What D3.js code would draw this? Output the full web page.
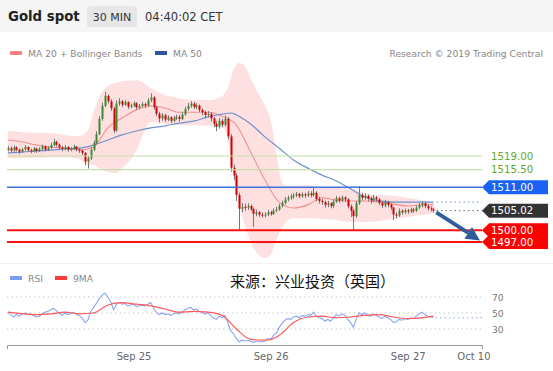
<!DOCTYPE html>
<html>
<head>
<meta charset="utf-8">
<script src="https://cdn.jsdelivr.net/npm/d3@7"></script>
<style>
  body { margin: 0; background: #fff; }
  svg { display: block; font-family: "DejaVu Sans", Verdana, sans-serif; }
</style>
</head>
<body>
<svg id="chart" width="553" height="371"></svg>
<script>
// 30 min candles, Sep 24 ~02:00 -> Sep 27 04:30 (open = previous close)
var firstOpen = 1520.6;
var closes = [
  1521.0, 1520.4, 1521.2, 1520.6, 1520.1, 1520.7, 1521.3, 1520.5, 1520.2, 1520.9,
  1520.3, 1520.8, 1521.5, 1520.6, 1521.1, 1521.8, 1522.6, 1521.9, 1521.2, 1520.8,
  1521.3, 1520.6, 1520.9, 1521.4, 1520.7, 1520.4, 1519.8, 1517.6, 1518.4, 1520.6,
  1522.4, 1524.6, 1528.5, 1531.8, 1534.4, 1533.0, 1531.2, 1525.5, 1532.4, 1533.0,
  1532.1, 1532.8, 1531.6, 1531.9, 1532.5, 1531.4, 1531.8, 1532.3, 1531.9, 1533.2,
  1534.0, 1531.5, 1529.8, 1528.6, 1529.4, 1528.3, 1528.9, 1528.0, 1528.7, 1529.0,
  1528.5, 1529.6, 1531.0, 1531.8, 1532.4, 1531.5, 1531.9, 1530.8, 1530.2, 1529.5,
  1529.8, 1528.6, 1527.2, 1526.5, 1528.0, 1527.0, 1528.5, 1524.0, 1516.0, 1514.0,
  1509.0, 1505.5, 1506.0, 1505.8, 1506.2, 1505.4, 1504.2, 1504.6, 1504.0, 1503.8,
  1504.0, 1504.6, 1504.2, 1505.0, 1505.3, 1506.2, 1507.0, 1507.9, 1508.3, 1508.6,
  1508.9, 1509.3, 1508.7, 1509.2, 1508.9, 1509.4, 1509.0, 1509.6, 1508.0, 1507.5,
  1507.2, 1506.5, 1506.9, 1506.2, 1507.3, 1508.2, 1507.6, 1508.4, 1507.9, 1506.1,
  1505.0, 1503.6, 1506.9, 1509.0, 1508.3, 1508.8, 1508.1, 1507.6, 1508.4, 1507.9,
  1507.0, 1506.3, 1507.2, 1506.5, 1505.8, 1504.0, 1503.8, 1505.0, 1504.6, 1505.1,
  1504.8, 1505.3, 1505.0, 1505.8, 1506.4, 1506.9, 1506.2, 1505.6, 1505.4, 1505.02
];
var highs = [
  1521.5, 1521.4, 1521.7, 1521.5, 1520.9, 1521.1, 1521.8, 1521.5, 1520.9, 1521.3,
  1521.1, 1521.2, 1521.9, 1521.7, 1521.5, 1522.4, 1523.4, 1522.9, 1522.2, 1521.6,
  1521.8, 1521.6, 1521.3, 1521.9, 1521.6, 1521.0, 1520.6, 1520.0, 1519.0, 1521.2,
  1523.0, 1525.3, 1529.2, 1532.6, 1535.4, 1534.8, 1533.5, 1531.6, 1533.2, 1533.8,
  1533.4, 1533.3, 1533.0, 1532.4, 1533.0, 1532.8, 1532.3, 1532.8, 1532.7, 1533.8,
  1535.0, 1534.4, 1531.9, 1530.3, 1530.0, 1529.8, 1529.4, 1529.2, 1529.3, 1529.6,
  1529.5, 1530.2, 1531.6, 1532.6, 1533.0, 1532.8, 1532.5, 1532.2, 1531.2, 1530.6,
  1530.5, 1530.2, 1529.0, 1527.9, 1528.7, 1528.5, 1529.4, 1529.0, 1524.6, 1516.8,
  1514.6, 1509.6, 1507.0, 1506.8, 1506.9, 1506.6, 1505.8, 1505.3, 1505.0, 1504.6,
  1504.6, 1505.2, 1505.0, 1505.6, 1506.0, 1506.8, 1507.6, 1508.5, 1508.9, 1509.2,
  1509.5, 1509.8, 1509.6, 1509.7, 1509.6, 1510.0, 1510.0, 1511.0, 1510.0, 1508.6,
  1508.0, 1507.6, 1507.5, 1507.2, 1507.9, 1508.8, 1508.6, 1508.9, 1508.7, 1508.2,
  1506.6, 1505.4, 1507.5, 1511.3, 1509.6, 1509.4, 1509.2, 1508.6, 1509.0, 1508.8,
  1508.2, 1507.4, 1507.8, 1507.6, 1506.9, 1506.0, 1504.6, 1505.6, 1505.4, 1505.6,
  1505.5, 1505.8, 1505.7, 1506.3, 1507.0, 1507.4, 1507.3, 1506.6, 1506.1, 1505.8
];
var lows = [
  1520.2, 1519.9, 1520.1, 1520.2, 1519.5, 1519.8, 1520.4, 1520.0, 1519.7, 1519.9,
  1519.8, 1520.0, 1520.5, 1520.2, 1520.3, 1520.8, 1521.5, 1521.4, 1520.7, 1520.2,
  1520.5, 1520.1, 1520.2, 1520.6, 1520.2, 1519.8, 1519.2, 1516.6, 1515.8, 1518.0,
  1520.2, 1522.0, 1524.3, 1528.0, 1531.5, 1532.4, 1530.5, 1524.8, 1525.2, 1531.8,
  1531.5, 1531.8, 1531.0, 1531.2, 1531.5, 1530.9, 1531.0, 1531.4, 1531.3, 1531.6,
  1532.8, 1530.9, 1529.2, 1527.6, 1528.0, 1527.7, 1527.9, 1527.4, 1527.6, 1528.2,
  1527.8, 1528.2, 1529.3, 1530.6, 1531.3, 1531.0, 1531.0, 1530.2, 1529.4, 1528.6,
  1528.9, 1527.8, 1526.4, 1525.3, 1526.0, 1526.3, 1526.6, 1523.2, 1515.0, 1512.8,
  1507.5, 1500.1, 1504.6, 1505.0, 1505.2, 1504.9, 1500.8, 1503.6, 1503.4, 1503.2,
  1503.3, 1503.6, 1503.7, 1503.9, 1504.6, 1505.0, 1505.8, 1506.6, 1507.4, 1507.8,
  1508.1, 1508.5, 1508.2, 1508.3, 1508.3, 1508.5, 1508.4, 1508.6, 1507.4, 1506.8,
  1506.5, 1505.8, 1505.9, 1505.6, 1505.8, 1507.0, 1507.0, 1507.2, 1507.2, 1505.6,
  1503.4, 1500.2, 1503.2, 1506.5, 1507.6, 1507.8, 1507.4, 1506.8, 1507.2, 1507.3,
  1506.4, 1505.7, 1505.9, 1505.9, 1505.2, 1502.6, 1503.0, 1503.4, 1504.0, 1504.2,
  1504.2, 1504.4, 1504.4, 1504.7, 1505.4, 1505.9, 1505.6, 1505.0, 1504.8, 1504.5
];

// Bollinger bands (read at these bar indices)
var bbIdx = [0, 5, 10, 15, 20, 25, 28, 30, 33, 35, 38, 40, 45, 48, 50, 55, 60, 65, 70, 75, 77, 79, 81, 83, 85, 87, 90, 92, 94, 96, 98, 100, 105, 110, 115, 120, 125, 130, 135, 140, 145, 149];
var bbUpper = [1525.4, 1525.1, 1524.9, 1524.9, 1524.4, 1524.1, 1525.6, 1530.2, 1535.4, 1536.9, 1537.8, 1538.2, 1538.4, 1537.4, 1536.4, 1534.6, 1533.8, 1533.3, 1533.3, 1534.3, 1536.4, 1541.0, 1542.8, 1542.0, 1538.9, 1535.9, 1532.0, 1528.2, 1519.8, 1512.3, 1511.3, 1511.3, 1511.6, 1510.8, 1510.8, 1510.6, 1509.5, 1509.0, 1508.8, 1508.3, 1507.7, 1507.2];
var bbLower = [1518.5, 1518.5, 1518.5, 1518.7, 1518.7, 1518.2, 1516.7, 1516.7, 1515.4, 1514.9, 1514.6, 1515.9, 1520.5, 1525.6, 1527.7, 1527.2, 1526.9, 1526.9, 1526.7, 1526.4, 1523.1, 1514.1, 1506.5, 1501.3, 1497.0, 1494.4, 1492.9, 1493.7, 1497.5, 1500.6, 1502.6, 1503.1, 1503.1, 1502.9, 1502.6, 1502.1, 1502.1, 1502.4, 1502.9, 1503.4, 1503.9, 1504.2];

var ma20Idx = [0, 5, 10, 15, 20, 25, 30, 35, 40, 45, 50, 55, 60, 65, 70, 75, 80, 85, 90, 95, 100, 105, 110, 115, 120, 125, 130, 135, 140, 145, 149];
var ma20 = [1523.1, 1522.6, 1521.8, 1521.3, 1521.0, 1520.5, 1521.3, 1526.2, 1528.7, 1530.8, 1531.8, 1531.3, 1530.2, 1530.2, 1530.2, 1529.2, 1526.9, 1520.0, 1512.9, 1507.2, 1505.7, 1506.5, 1508.3, 1507.7, 1507.5, 1507.5, 1507.2, 1506.7, 1506.2, 1506.5, 1506.5];

var ma50Idx = [0, 5, 10, 15, 20, 25, 30, 35, 40, 45, 50, 55, 60, 65, 70, 75, 78, 80, 85, 90, 95, 100, 105, 110, 115, 120, 125, 130, 135, 140, 145, 149];
var ma50 = [1519.8, 1520.0, 1520.3, 1520.5, 1520.8, 1521.0, 1521.8, 1523.1, 1524.4, 1525.4, 1526.2, 1526.7, 1527.4, 1527.9, 1529.0, 1529.7, 1530.0, 1529.5, 1527.2, 1523.9, 1521.0, 1518.0, 1515.9, 1514.1, 1512.6, 1510.6, 1508.5, 1507.5, 1507.2, 1507.2, 1507.2, 1507.2];

var rsi = [
  51, 48, 45, 48, 46, 49, 50, 48, 49, 47,
  45, 46, 49, 51, 52, 54, 56, 53, 50, 47,
  50, 48, 49, 51, 48, 47, 44, 38, 41, 52,
  57, 62, 68, 72, 75, 70, 64, 54, 61, 63,
  61, 62, 59, 60, 61, 58, 59, 60, 59, 61,
  63, 56, 51, 48, 50, 48, 49, 47, 49, 50,
  49, 51, 54, 56, 57, 54, 55, 52, 51, 49,
  50, 47, 44, 42, 46, 44, 47, 38, 28, 24,
  18, 14, 16, 15, 16, 15, 13, 15, 14, 14,
  15, 18, 17, 22, 25, 32, 37, 41, 43, 42,
  45, 46, 44, 47, 46, 48, 47, 51, 46, 44,
  43, 40, 42, 40, 44, 48, 46, 49, 47, 42,
  38, 32, 43, 50, 48, 50, 47, 46, 49, 47,
  45, 43, 46, 44, 42, 38, 39, 42, 41, 43,
  42, 44, 43, 46, 49, 51, 48, 46, 45, 44
];
var rsiMaIdx = [0, 5, 10, 15, 20, 25, 30, 35, 40, 45, 50, 55, 60, 65, 70, 75, 80, 85, 90, 95, 100, 105, 110, 115, 120, 125, 130, 135, 140, 145, 149];
var rsiMa = [51, 49, 48, 49, 51, 49, 50, 60, 63, 61, 59, 55, 51, 52, 51, 47, 30, 17, 16, 22, 38, 45, 46, 44, 45, 47, 48, 45, 43, 44, 46];

var lastPrice = 1505.02;
var supportLevels = [1500.00, 1497.00];
var resistLevels = [1519.00, 1515.50];
var pivotLevel = 1511.00;
var arrowFrom = [150, 1504.6];
var arrowTo = [165.3, 1497.4];

var dayTicks = [44, 92, 140, 163];
var dayLabels = ["Sep 25", "Sep 26", "Sep 27", "Oct 10"];
var rsiTicks = [70, 50, 30];

var svg = d3.select("#chart");
var W = 553;
var plotLeft = 7, plotRight = 482;

var x = d3.scaleLinear().domain([-0.3, 166]).range([plotLeft, plotRight]);
var y = d3.scaleLinear().domain([1497, 1519]).range([242, 156]);
var yR = d3.scaleLinear().domain([30, 70]).range([329, 297]);

drawHeader();
drawPricePanel();
drawRsiPanel();

function drawHeader() {
  svg.append("rect").attr("x", 0).attr("y", 0).attr("width", W).attr("height", 32).attr("fill", "#f5f5f5");
  svg.append("text").attr("x", 8).attr("y", 21).attr("font-size", 13.3).attr("font-weight", "bold")
    .attr("fill", "#222").text("Gold spot");
  svg.append("rect").attr("x", 87).attr("y", 6).attr("width", 50).attr("height", 21).attr("rx", 2).attr("fill", "#e6e6e6");
  svg.append("text").attr("x", 112).attr("y", 21).attr("text-anchor", "middle").attr("font-size", 11)
    .attr("fill", "#333").text("30 MIN");
  svg.append("text").attr("x", 145).attr("y", 21).attr("font-size", 11.5).attr("fill", "#333").text("04:40:02 CET");

  // legend
  var leg = [
    { x: 10, color: "#ff8080", label: "MA 20 + Bollinger Bands" },
    { x: 155, color: "#2d55a0", label: "MA 50" }
  ];
  var g = svg.append("g").attr("font-size", 9.2).attr("fill", "#888");
  g.selectAll("rect").data(leg).enter().append("rect")
    .attr("x", d => d.x).attr("y", 51).attr("width", 12).attr("height", 4).attr("fill", d => d.color);
  g.selectAll("text").data(leg).enter().append("text")
    .attr("x", d => d.x + 18).attr("y", 56.5).text(d => d.label);
  svg.append("text").attr("x", 543).attr("y", 56.5).attr("text-anchor", "end")
    .attr("font-size", 9.2).attr("fill", "#888").text("Research \u00a9 2019 Trading Central");
}

function drawPricePanel() {
  svg.append("clipPath").attr("id", "pclip").append("rect")
    .attr("x", plotLeft).attr("y", 60).attr("width", plotRight - plotLeft).attr("height", 202);

  svg.append("line").attr("x1", 0).attr("x2", W).attr("y1", 263.5).attr("y2", 263.5)
    .attr("stroke", "#f0f0f0");

  var pg = svg.append("g").attr("clip-path", "url(#pclip)");

  // bollinger band
  var band = bbIdx.map((d, i) => ({ i: d, hi: bbUpper[i], lo: bbLower[i] }));
  pg.append("path").datum(band)
    .attr("fill", "#ffdada").attr("fill-opacity", 0.85)
    .attr("d", d3.area().curve(d3.curveMonotoneX)
      .x(d => x(d.i)).y0(d => y(d.lo)).y1(d => y(d.hi)));

  // level lines
  var lines = [
    { v: resistLevels[0], c: "#c3e0a8", w: 1.2 },
    { v: resistLevels[1], c: "#c3e0a8", w: 1.2 },
    { v: pivotLevel, c: "#3f72e0", w: 1.3 },
    { v: supportLevels[0], c: "#ff1010", w: 2 },
    { v: supportLevels[1], c: "#ff1010", w: 2 }
  ];
  svg.selectAll(".lvl").data(lines).enter().append("line").attr("class", "lvl")
    .attr("x1", plotLeft).attr("x2", plotRight)
    .attr("y1", d => y(d.v)).attr("y2", d => y(d.v))
    .attr("stroke", d => d.c).attr("stroke-width", d => d.w);

  // moving averages
  var line = d3.line().curve(d3.curveMonotoneX).x(d => x(d[0])).y(d => y(d[1]));
  pg.append("path").datum(ma20Idx.map((d, i) => [d, ma20[i]]))
    .attr("fill", "none").attr("stroke", "#f49090").attr("stroke-width", 1.1).attr("d", line);
  pg.append("path").datum(ma50Idx.map((d, i) => [d, ma50[i]]))
    .attr("fill", "none").attr("stroke", "#7090cc").attr("stroke-width", 1.2).attr("d", line);

  // candles
  var candles = closes.map((c, i) => ({ i: i, o: i ? closes[i - 1] : firstOpen, h: highs[i], l: lows[i], c: c }));
  var cg = pg.selectAll(".candle").data(candles).enter().append("g").attr("class", "candle");
  cg.append("line")
    .attr("x1", d => Math.round(x(d.i)) + 0.5).attr("x2", d => Math.round(x(d.i)) + 0.5)
    .attr("y1", d => y(d.h)).attr("y2", d => y(d.l))
    .attr("stroke", "#777").attr("stroke-width", 1);
  cg.append("rect")
    .attr("x", d => Math.round(x(d.i)) - 0.5).attr("width", 2)
    .attr("y", d => y(Math.max(d.o, d.c)))
    .attr("height", d => Math.max(1, Math.abs(y(d.o) - y(d.c))))
    .attr("fill", d => d.c >= d.o ? "#3a8a30" : "#d40000");

  // dotted extensions
  var lastI = closes.length - 1;
  svg.append("line").attr("x1", x(lastI) + 3).attr("x2", plotRight)
    .attr("y1", y(ma50[ma50.length - 1])).attr("y2", y(ma50[ma50.length - 1]))
    .attr("stroke", "#7090cc").attr("stroke-dasharray", "1.5,3");
  svg.append("line").attr("x1", x(lastI) + 3).attr("x2", plotRight)
    .attr("y1", y(lastPrice)).attr("y2", y(lastPrice))
    .attr("stroke", "#666").attr("stroke-dasharray", "1.5,3");

  // arrow
  var ax0 = x(arrowFrom[0]), ay0 = y(arrowFrom[1]), ax1 = x(arrowTo[0]), ay1 = y(arrowTo[1]);
  var ang = Math.atan2(ay1 - ay0, ax1 - ax0);
  var head = 14, half = 7;
  var bx = ax1 - head * Math.cos(ang), by = ay1 - head * Math.sin(ang);
  svg.append("line").attr("x1", ax0).attr("y1", ay0).attr("x2", bx).attr("y2", by)
    .attr("stroke", "#2f5d9c").attr("stroke-width", 3.8);
  svg.append("path").attr("fill", "#2f5d9c")
    .attr("d", "M" + ax1 + "," + ay1 +
      "L" + (bx + half * Math.sin(ang)) + "," + (by - half * Math.cos(ang)) +
      "L" + (bx - half * Math.sin(ang)) + "," + (by + half * Math.cos(ang)) + "Z");

  // right-hand labels
  svg.selectAll(".rtxt").data(resistLevels).enter().append("text").attr("class", "rtxt")
    .attr("x", 491).attr("y", d => y(d) + 3.8).attr("font-size", 10.2).attr("fill", "#5fa82c")
    .text(d => d.toFixed(2));

  var tags = [
    { v: pivotLevel, c: "#1a62f5" },
    { v: lastPrice, c: "#333333" },
    { v: supportLevels[0], c: "#ff0000" },
    { v: supportLevels[1], c: "#ff0000" }
  ];
  var tg = svg.selectAll(".tag").data(tags).enter().append("g").attr("class", "tag");
  tg.append("path").attr("fill", d => d.c)
    .attr("d", d => {
      var cy = y(d.v);
      return "M" + plotRight + "," + cy + "L" + (plotRight + 7) + "," + (cy - 7) + "H548V" + (cy + 7) +
        "H" + (plotRight + 7) + "Z";
    });
  tg.append("text").attr("x", 491).attr("y", d => y(d.v) + 3.8).attr("font-size", 10.2)
    .attr("fill", "#fff").text(d => d.v.toFixed(2));
}

function drawRsiPanel() {
  var leg = [
    { x: 10, color: "#7b9cf0", label: "RSI" },
    { x: 55, color: "#ff3b3b", label: "9MA" }
  ];
  var g = svg.append("g").attr("font-size", 9.2).attr("fill", "#888");
  g.selectAll("rect").data(leg).enter().append("rect")
    .attr("x", d => d.x).attr("y", 276).attr("width", 12).attr("height", 4).attr("fill", d => d.color);
  g.selectAll("text").data(leg).enter().append("text")
    .attr("x", d => d.x + 18).attr("y", 281.5).text(d => d.label);

  svg.append("text").attr("x", 230).attr("y", 287)
    .attr("font-family", "'Noto Sans CJK SC', sans-serif").attr("font-size", 15).attr("fill", "#111")
    .text("来源：兴业投资（英国）");

  // grid
  svg.selectAll(".rgrid").data(rsiTicks).enter().append("line").attr("class", "rgrid")
    .attr("x1", plotLeft).attr("x2", plotRight)
    .attr("y1", d => yR(d)).attr("y2", d => yR(d))
    .attr("stroke", "#c8c8c8").attr("stroke-dasharray", "1.5,3");
  svg.selectAll(".rtick").data(rsiTicks).enter().append("text").attr("class", "rtick")
    .attr("x", 492).attr("y", d => yR(d) + 3.5).attr("font-size", 9.2).attr("fill", "#777")
    .text(d => d);

  var line = d3.line().x(d => x(d[0])).y(d => yR(d[1]));
  svg.append("path").datum(rsi.map((d, i) => [i, d]))
    .attr("fill", "none").attr("stroke", "#8aa6f2").attr("stroke-width", 1.1).attr("d", line);
  svg.append("path").datum(rsiMaIdx.map((d, i) => [d, rsiMa[i]]))
    .attr("fill", "none").attr("stroke", "#ff5a5a").attr("stroke-width", 1.2)
    .attr("d", line.curve(d3.curveMonotoneX));
  var lastI = rsi.length - 1;
  svg.append("line").attr("x1", x(lastI) + 2).attr("x2", plotRight)
    .attr("y1", yR(rsi[lastI])).attr("y2", yR(rsi[lastI]))
    .attr("stroke", "#8aa6f2").attr("stroke-dasharray", "1.5,3");

  // time axis
  var axis = svg.append("g").attr("transform", "translate(0,345)")
    .call(d3.axisBottom(x).tickValues(dayTicks).tickFormat((d, i) => dayLabels[i])
      .tickSizeInner(0).tickSizeOuter(4).tickPadding(8));
  axis.select(".domain").attr("stroke", "#999");
  axis.selectAll("text").attr("font-size", 10).attr("fill", "#666")
    .attr("font-family", "'DejaVu Sans', sans-serif");
}
</script>
</body>
</html>
